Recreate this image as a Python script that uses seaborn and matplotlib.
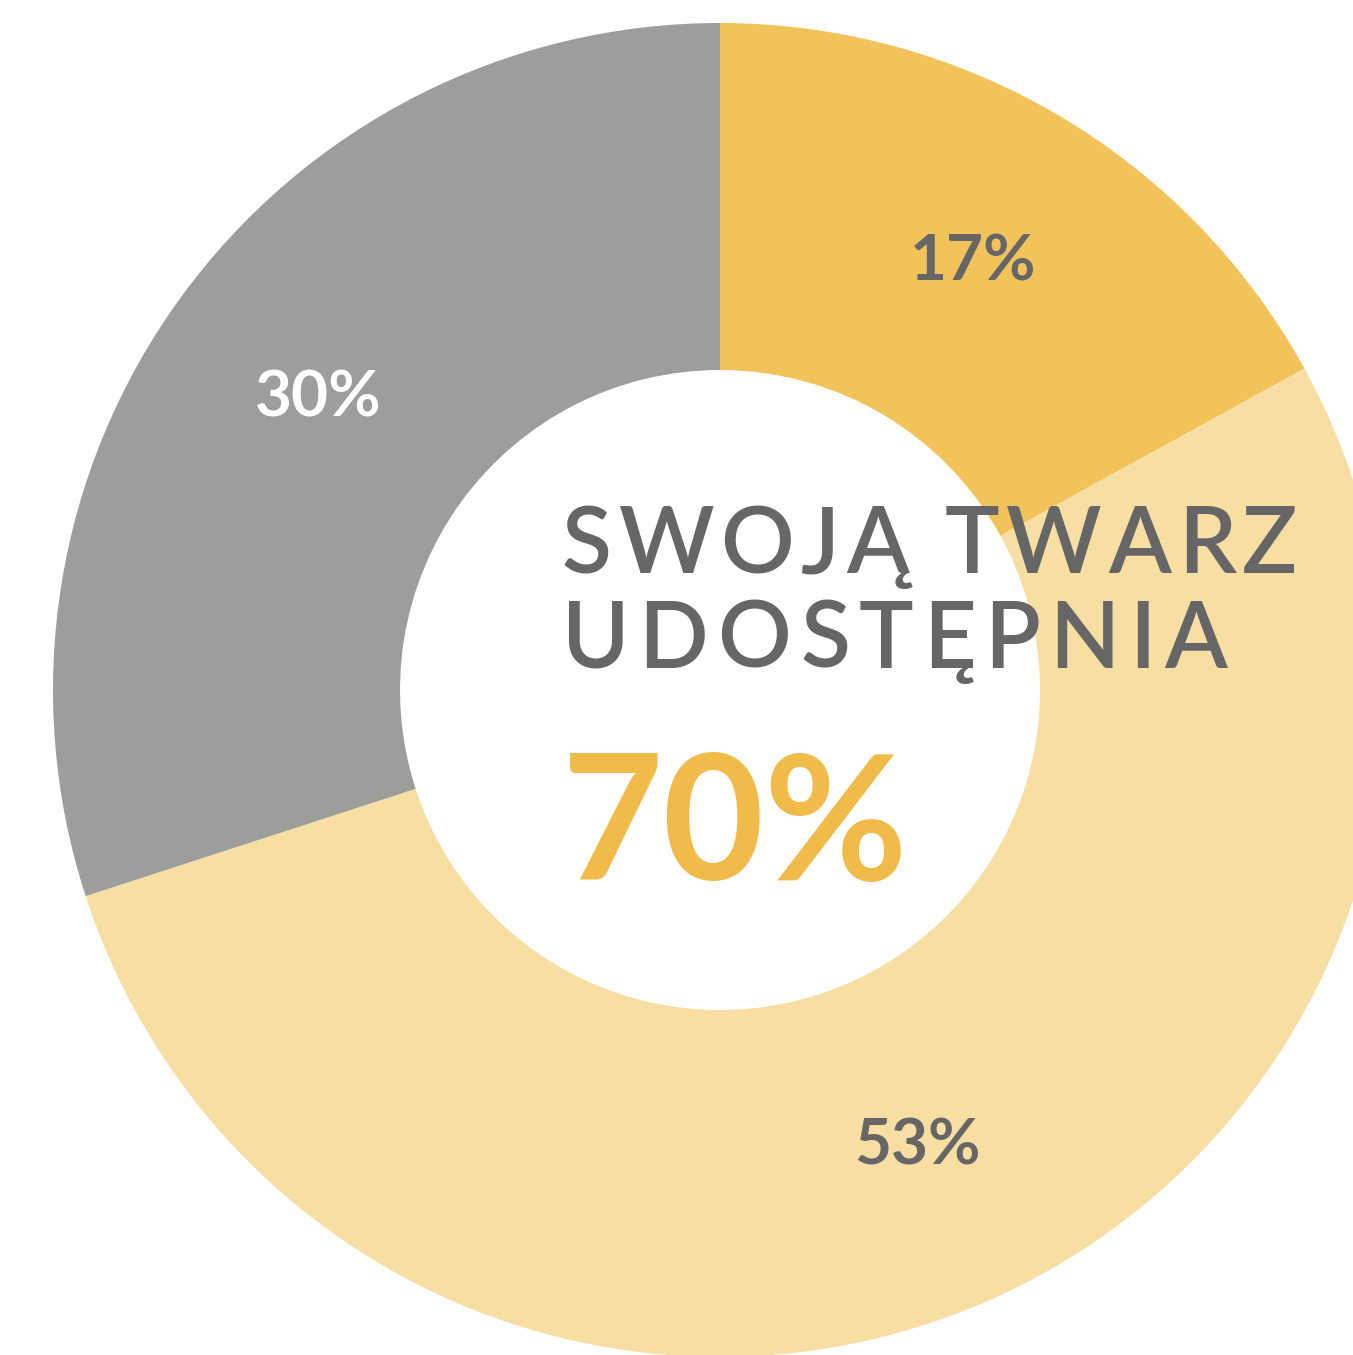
import matplotlib
matplotlib.use("Agg")
import matplotlib.pyplot as plt
from matplotlib.font_manager import FontProperties
import seaborn as sns

sns.set_theme(style="white")
plt.rcParams['font.family'] = ['Lato', 'DejaVu Sans']

# Data
categories = ["Tak", "Częściowo", "Nie"]
values = [17, 53, 30]
colors = ["#F2C35B", "#F7DFA4", "#9D9D9B"]
label_colors = ["#666666", "#666666", "#FFFFFF"]
title_lines = ["SWOJĄ TWARZ", "UDOSTĘPNIA"]
center_value = "70%"

W, H = 1353, 1355
fig = plt.figure(figsize=(W / 100, H / 100), dpi=100)
ax = fig.add_axes([0, 0, 1, 1])
R = 667.0
cx, cy = 720.0, 690.0

wedges, texts, autotexts = ax.pie(
    values, colors=colors, startangle=90, counterclock=False,
    radius=1.0, autopct=lambda p: f"{p:.0f}%", pctdistance=0.745,
    wedgeprops=dict(width=1 - 320 / R, linewidth=0),
)
for t, c in zip(autotexts, label_colors):
    t.set_color(c)
    t.set_fontsize(46)
    t.set_fontweight("bold")

ax.set_xlim((0 - cx) / R, (W - cx) / R)
ax.set_ylim((cy - H) / R, (cy - 0) / R)
ax.set_aspect("equal")
ax.axis("off")

renderer = fig.canvas.get_renderer()
fp = FontProperties(family=['Lato', 'DejaVu Sans'], weight='semibold', size=66)


def tracked_text(s, x0, baseline, tracking):
    for i, ch in enumerate(s):
        if ch == " ":
            continue
        w_prefix = renderer.get_text_width_height_descent(s[:i], fp, ismath=False)[0] if i else 0.0
        x = x0 + w_prefix + i * tracking
        fig.text(x / W, 1 - baseline / H, ch, color="#666666", fontproperties=fp,
                 va="baseline", ha="left")


tracked_text(title_lines[0], 562, 573, 6.5)
tracked_text(title_lines[1], 562, 668, 9.0)

fig.text(562 / W, 1 - 880 / H, center_value, color="#F0BB49", fontsize=126,
         fontweight="bold", va="baseline", ha="left")

fig.savefig("out.png", dpi=100)
